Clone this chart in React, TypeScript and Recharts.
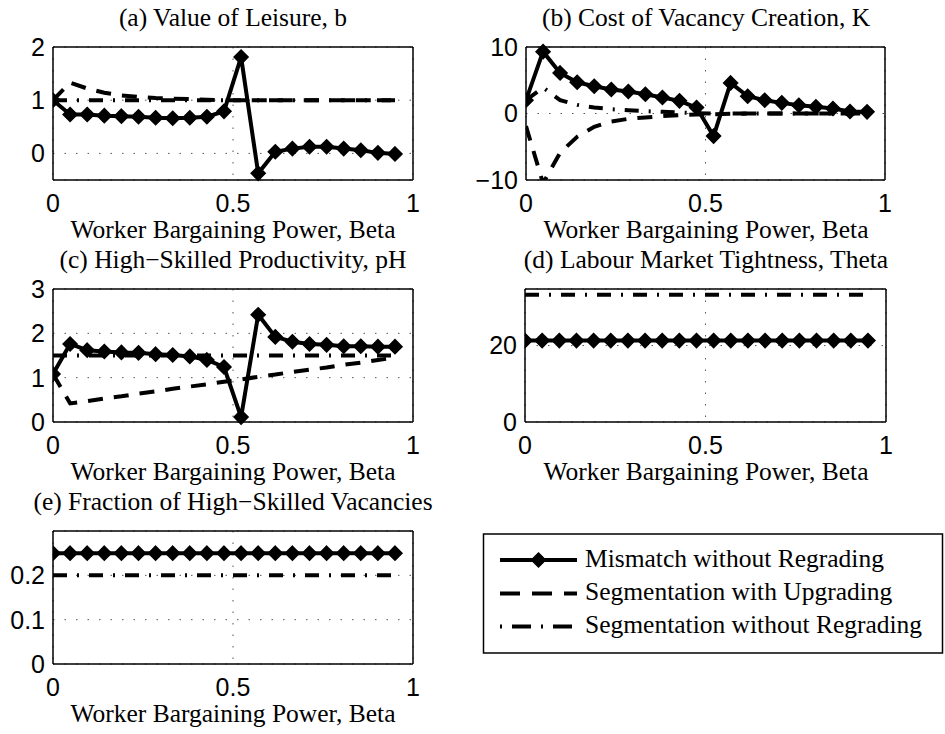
import { LineChart, Line, XAxis, YAxis, CartesianGrid } from 'recharts';

// beta grid: 21 points from 0 to 0.95
const beta = [0, 0.0475, 0.095, 0.1425, 0.19, 0.2375, 0.285, 0.3325, 0.38, 0.4275, 0.475, 0.5225, 0.57, 0.6175, 0.665, 0.7125, 0.76, 0.8075, 0.855, 0.9025, 0.95];

// (a) value of leisure
const leisureMismatch = [1.0, 0.73, 0.73, 0.71, 0.7, 0.69, 0.67, 0.66, 0.67, 0.69, 0.79, 1.81, -0.375, 0.03, 0.09, 0.125, 0.125, 0.09, 0.06, 0.01, -0.01];
const leisureUpgrading = [1.0, 1.33, 1.22, 1.14, 1.09, 1.06, 1.04, 1.03, 1.02, 1.01, 1.0, 1.0, 1.0, 1.0, 1.0, 1.0, 1.0, 1.0, 1.0, 1.0, 1.0];
const leisureSegment = [1.0, 1.0, 1.0, 1.0, 1.0, 1.0, 1.0, 1.0, 1.0, 1.0, 1.0, 1.0, 1.0, 1.0, 1.0, 1.0, 1.0, 1.0, 1.0, 1.0, 1.0];

// (b) cost of vacancy creation
const costMismatch = [2.0, 9.3, 6.1, 4.7, 4.1, 3.6, 3.3, 2.9, 2.4, 1.9, 0.9, -3.4, 4.6, 2.6, 2.0, 1.6, 1.25, 1.0, 0.75, 0.3, 0.25];
const costUpgrading = [-1.9, -10.5, -5.9, -3.5, -2.0, -1.2, -0.8, -0.6, -0.4, -0.25, -0.15, -0.1, -0.05, 0, 0, 0, 0, 0, 0, 0, 0];
const costSegment = [2.0, 3.9, 2.0, 1.3, 0.9, 0.65, 0.5, 0.35, 0.25, 0.15, 0.05, 0, 0, 0, 0, 0, 0, 0, 0, 0, 0];

// (c) high-skilled productivity
const prodMismatch = [1.08, 1.76, 1.62, 1.59, 1.57, 1.56, 1.53, 1.51, 1.48, 1.4, 1.24, 0.11, 2.42, 1.92, 1.81, 1.76, 1.74, 1.71, 1.71, 1.7, 1.7];
const prodUpgrading = [1.08, 0.42, 0.47, 0.53, 0.58, 0.64, 0.69, 0.75, 0.8, 0.85, 0.91, 0.96, 1.02, 1.07, 1.13, 1.18, 1.23, 1.29, 1.34, 1.4, 1.45];
const prodSegment = [1.5, 1.5, 1.5, 1.5, 1.5, 1.5, 1.5, 1.5, 1.5, 1.5, 1.5, 1.5, 1.5, 1.5, 1.5, 1.5, 1.5, 1.5, 1.5, 1.5, 1.5];

// (d) labour market tightness
const thetaMismatch = [21.3, 21.3, 21.3, 21.3, 21.3, 21.3, 21.3, 21.3, 21.3, 21.3, 21.3, 21.3, 21.3, 21.3, 21.3, 21.3, 21.3, 21.3, 21.3, 21.3, 21.3];
const thetaSegment = [33.3, 33.3, 33.3, 33.3, 33.3, 33.3, 33.3, 33.3, 33.3, 33.3, 33.3, 33.3, 33.3, 33.3, 33.3, 33.3, 33.3, 33.3, 33.3, 33.3, 33.3];

// (e) fraction of high-skilled vacancies
const fracMismatch = [0.25, 0.25, 0.25, 0.25, 0.25, 0.25, 0.25, 0.25, 0.25, 0.25, 0.25, 0.25, 0.25, 0.25, 0.25, 0.25, 0.25, 0.25, 0.25, 0.25, 0.25];
const fracSegment = [0.2, 0.2, 0.2, 0.2, 0.2, 0.2, 0.2, 0.2, 0.2, 0.2, 0.2, 0.2, 0.2, 0.2, 0.2, 0.2, 0.2, 0.2, 0.2, 0.2, 0.2];

const xTicks = [0, 0.5, 1];
const xLabel = 'Worker Bargaining Power, Beta';
const seriesNames = ['Mismatch without Regrading', 'Segmentation with Upgrading', 'Segmentation without Regrading'];

const SERIF = "'Liberation Serif', 'Times New Roman', Times, serif";
const SANS = "'Liberation Sans', Arial, Helvetica, sans-serif";
const DASH = '15 11';
const DASHDOT = '14 10 2 10';
const LW = 4;

function Diamond(props: any) {
    const { cx, cy, index } = props;
    if (cx == null || cy == null) return <g key={index} />;
    const r = 7;
    return (
        <path
            key={index}
            d={`M${cx},${cy - r}L${cx + r},${cy}L${cx},${cy + r}L${cx - r},${cy}Z`}
            fill="#000"
            stroke="#000"
            strokeWidth={1.5}
        />
    );
}

const fmt = (v: number) => String(v).replace('-', '\u2212');

interface PanelProps {
    left: number;
    top: number;
    width: number;
    height: number;
    yDomain: [number, number];
    yTicks: number[];
    mismatch: number[];
    upgrading?: number[];
    segment: number[];
}

function Panel({ left, top, width, height, yDomain, yTicks, mismatch, upgrading, segment }: PanelProps) {
    const data = beta.map((b, i) => ({
        beta: b,
        mismatch: mismatch[i],
        upgrading: upgrading ? upgrading[i] : null,
        segment: segment[i],
    }));
    const padL = 70;
    const padT = 20;
    const padR = 20;
    const padB = 40;
    const tickFont = { fill: '#000', fontSize: 25, style: { fontFamily: SANS } };
    const border = { stroke: '#000', strokeWidth: 1.5 };

    return (
        <div style={{ position: 'absolute', left: left - padL, top: top - padT }}>
            <LineChart
                width={width + padL + padR}
                height={height + padT + padB}
                data={data}
                margin={{ top: padT, right: padR, bottom: 0, left: 0 }}
                style={{ fontFamily: SANS }}
            >
                <CartesianGrid stroke="#555" strokeDasharray="1.5 10" strokeWidth={1} />
                <XAxis
                    dataKey="beta"
                    type="number"
                    domain={[0, 1]}
                    ticks={xTicks}
                    height={padB}
                    axisLine={border}
                    tickLine={false}
                    tickSize={0}
                    tickMargin={14}
                    tick={tickFont}
                    allowDataOverflow
                />
                <XAxis xAxisId="xb" type="number" domain={[0, 1]} ticks={xTicks} mirror tick={false}
                    tickLine={{ stroke: '#000' }} tickSize={5} axisLine={false} allowDataOverflow />
                <XAxis xAxisId="xt" orientation="top" type="number" domain={[0, 1]} ticks={xTicks} mirror tick={false}
                    tickLine={{ stroke: '#000' }} tickSize={5} axisLine={border} allowDataOverflow />
                <YAxis
                    type="number"
                    domain={yDomain}
                    ticks={yTicks}
                    width={padL}
                    axisLine={border}
                    tickLine={false}
                    tickSize={0}
                    tickMargin={8}
                    tick={tickFont}
                    tickFormatter={fmt}
                    interval={0}
                />
                <YAxis yAxisId="yl" type="number" domain={yDomain} ticks={yTicks} mirror tick={false}
                    tickLine={{ stroke: '#000' }} tickSize={5} axisLine={false} allowDataOverflow />
                <YAxis yAxisId="yr" orientation="right" type="number" domain={yDomain} ticks={yTicks} mirror tick={false}
                    tickLine={{ stroke: '#000' }} tickSize={5} axisLine={border} allowDataOverflow />
                <YAxis yAxisId="clip" type="number" domain={yDomain} hide allowDataOverflow />

                <Line
                    dataKey="segment"
                    stroke="#000"
                    strokeWidth={LW}
                    strokeDasharray={DASHDOT}
                    dot={false}
                    isAnimationActive={false}
                />
                {upgrading && (
                    <Line
                        dataKey="upgrading"
                        yAxisId="clip"
                        stroke="#000"
                        strokeWidth={LW}
                        strokeDasharray={DASH}
                        dot={false}
                        isAnimationActive={false}
                    />
                )}
                <Line
                    dataKey="mismatch"
                    stroke="#000"
                    strokeWidth={LW}
                    dot={Diamond}
                    activeDot={false}
                    isAnimationActive={false}
                />
            </LineChart>
        </div>
    );
}

const COL_L = 53;
const COL_R = 526;
const ROWS = [47, 289, 531];
const PW = 360;
const PH = 133;

const titles = [
    { x: COL_L + PW / 2, y: ROWS[0] - 21, text: '(a) Value of Leisure, b' },
    { x: COL_R + PW / 2, y: ROWS[0] - 21, text: '(b) Cost of Vacancy Creation, K' },
    { x: COL_L + PW / 2, y: ROWS[1] - 21, text: '(c) High\u2212Skilled Productivity, pH' },
    { x: COL_R + PW / 2, y: ROWS[1] - 21, text: '(d) Labour Market Tightness, Theta' },
    { x: COL_L + PW / 2, y: ROWS[2] - 21, text: '(e) Fraction of High\u2212Skilled Vacancies' },
];

const xLabels = [
    { x: COL_L + PW / 2, y: ROWS[0] + PH + 58 },
    { x: COL_R + PW / 2, y: ROWS[0] + PH + 58 },
    { x: COL_L + PW / 2, y: ROWS[1] + PH + 58 },
    { x: COL_R + PW / 2, y: ROWS[1] + PH + 58 },
    { x: COL_L + PW / 2, y: ROWS[2] + PH + 58 },
];

const serifText = { fontFamily: SERIF, fontSize: 25.5 };

function Overlay() {
    const rowY = [560, 593.5, 626.5];
    return (
        <svg width={945} height={734} style={{ position: 'absolute', left: 0, top: 0 }}>
            {titles.map((t) => (
                <text key={t.text} x={t.x} y={t.y} textAnchor="middle" fill="#000" style={serifText}>
                    {t.text}
                </text>
            ))}
            {xLabels.map((l, i) => (
                <text key={i} x={l.x} y={l.y} textAnchor="middle" fill="#000" style={serifText}>
                    {xLabel}
                </text>
            ))}

            {/* legend */}
            <rect x={483.5} y={534} width={459} height={119} fill="#fff" stroke="#000" strokeWidth={1.5} />
            <line x1={500} x2={577} y1={rowY[0]} y2={rowY[0]} stroke="#000" strokeWidth={LW} />
            <path d={`M538.5,${rowY[0] - 7}L545.5,${rowY[0]}L538.5,${rowY[0] + 7}L531.5,${rowY[0]}Z`} fill="#000" stroke="#000" strokeWidth={1.5} />
            <line x1={500} x2={577} y1={rowY[1]} y2={rowY[1]} stroke="#000" strokeWidth={LW} strokeDasharray="20 12" />
            <line x1={500} x2={577} y1={rowY[2]} y2={rowY[2]} stroke="#000" strokeWidth={LW} strokeDasharray="2 10 19 10" />
            {seriesNames.map((n, i) => (
                <text key={n} x={585} y={rowY[i] + 6.5} fill="#000" style={serifText}>
                    {n}
                </text>
            ))}
        </svg>
    );
}

export default function App() {
    return (
        <div style={{ position: 'absolute', left: 0, top: 0, width: 945, height: 734, background: '#fff' }}>
            <Overlay />
            <Panel left={COL_L} top={ROWS[0]} width={PW} height={PH} yDomain={[-0.5, 2]} yTicks={[0, 1, 2]}
                mismatch={leisureMismatch} upgrading={leisureUpgrading} segment={leisureSegment} />
            <Panel left={COL_R} top={ROWS[0]} width={PW - 1} height={PH} yDomain={[-10, 10]} yTicks={[-10, 0, 10]}
                mismatch={costMismatch} upgrading={costUpgrading} segment={costSegment} />
            <Panel left={COL_L} top={ROWS[1]} width={PW} height={PH} yDomain={[0, 3]} yTicks={[0, 1, 2, 3]}
                mismatch={prodMismatch} upgrading={prodUpgrading} segment={prodSegment} />
            <Panel left={COL_R - 1} top={ROWS[1]} width={PW + 1} height={PH} yDomain={[0, 34.8]} yTicks={[0, 20]}
                mismatch={thetaMismatch} segment={thetaSegment} />
            <Panel left={COL_L} top={ROWS[2]} width={PW} height={PH} yDomain={[0, 0.3]} yTicks={[0, 0.1, 0.2]}
                mismatch={fracMismatch} segment={fracSegment} />
        </div>
    );
}
